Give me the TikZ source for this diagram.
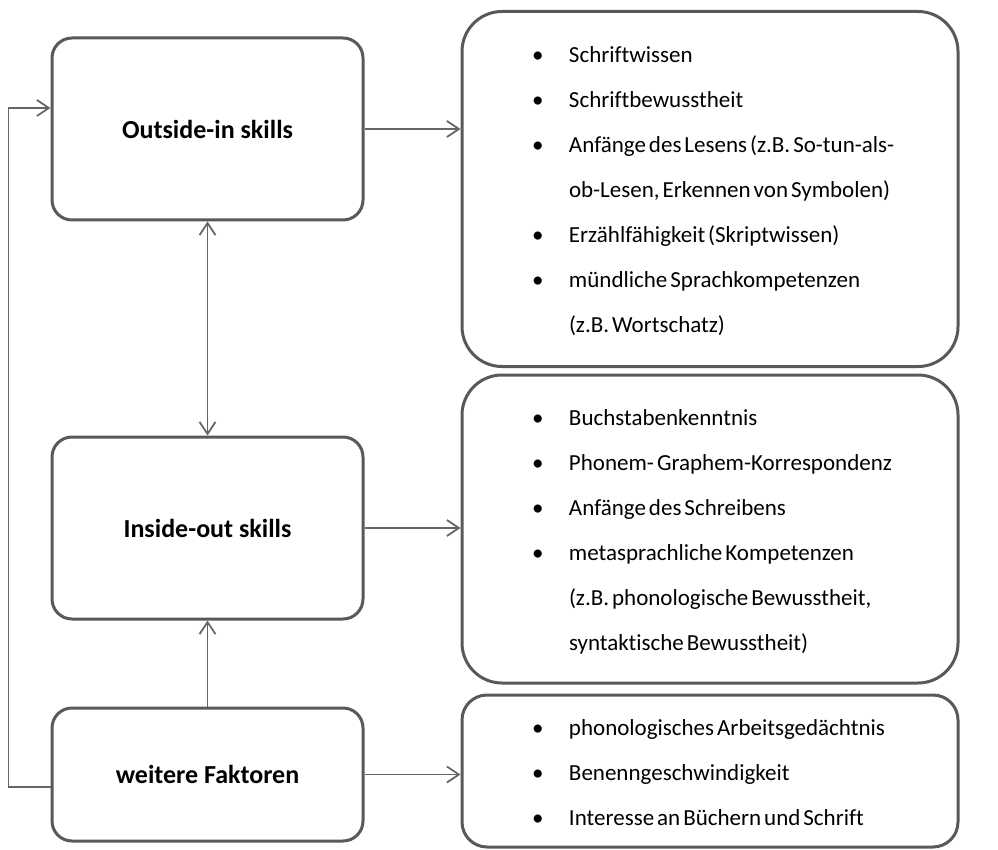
\documentclass[tikz,border=0pt]{standalone}
\usepackage{fontspec}
\setmainfont[Ligatures=NoCommon]{Carlito}
\usetikzlibrary{arrows.meta,calc}
\definecolor{bx}{HTML}{595959}
\definecolor{ln}{HTML}{666666}
\newcommand{\tightsp}{\spaceskip=.13em\relax}
\tikzset{sk/.style={draw=bx,line width=3pt,rounded corners=20pt,minimum width=311pt,font=\fontsize{26}{30}\selectfont\bfseries},
lst/.style={draw=bx,line width=3pt,rounded corners=40pt,text width=356pt,inner xsep=70pt,inner ysep=0pt,align=left,font=\fontsize{23}{45}\selectfont,execute at begin node=\tightsp},
ar/.style={draw=ln,line width=1.8pt,>={Straight Barb[length=12pt,width=16pt]}}}

\begin{document}
\begin{tikzpicture}[x=1pt,y=-1pt]
\useasboundingbox (0,0) rectangle (998,850);
\node[sk,minimum height=182pt] (oi) at (207.5,129) {Outside-in skills};
\node[sk,minimum height=182pt] (io) at (207.5,528) {Inside-out skills};
\node[sk,minimum height=133pt] (wf) at (207.5,774.5) {weitere Faktoren};
\node[lst,minimum height=355pt] (r1) at (710,189) {\begin{tabular}{@{}p{37pt}@{}l@{}}
\textbullet & Schriftwissen\\
\textbullet & Schriftbewusstheit\\
\textbullet & Anfänge des Lesens (z.B. So-tun-als-\\
 & ob-Lesen, Erkennen von Symbolen)\\
\textbullet & Erzählfähigkeit (Skriptwissen)\\
\textbullet & mündliche Sprachkompetenzen\\
 & (z.B. Wortschatz)
\end{tabular}};
\node[lst,minimum height=308pt] (r2) at (710,529) {\begin{tabular}{@{}p{37pt}@{}l@{}}
\textbullet & Buchstabenkenntnis\\
\textbullet & Phonem- Graphem-Korrespondenz\\
\textbullet & Anfänge des Schreibens\\
\textbullet & metasprachliche Kompetenzen\\
 & (z.B. phonologische Bewusstheit,\\
 & syntaktische Bewusstheit)
\end{tabular}};
\node[lst,minimum height=152pt,rounded corners=25pt] (r3) at (710,771) {\begin{tabular}{@{}p{37pt}@{}l@{}}
\textbullet & phonologisches Arbeitsgedächtnis\\
\textbullet & Benenngeschwindigkeit\\
\textbullet & Interesse an Büchern und Schrift
\end{tabular}};
\draw[ar,->] (oi.east) -- (oi.east -| r1.west);
\draw[ar,->] (io.east) -- (io.east -| r2.west);
\draw[ar,->] (wf.east) -- (wf.east -| r3.west);
\draw[ar,<->] (oi) -- (io);
\draw[ar,->] (wf) -- (io);
\draw[ar,->] ($(wf.west)+(0,12.5)$) -- ++(-42,0) |- ($(oi.west)+(0,-21)$);
\end{tikzpicture}
\end{document}
